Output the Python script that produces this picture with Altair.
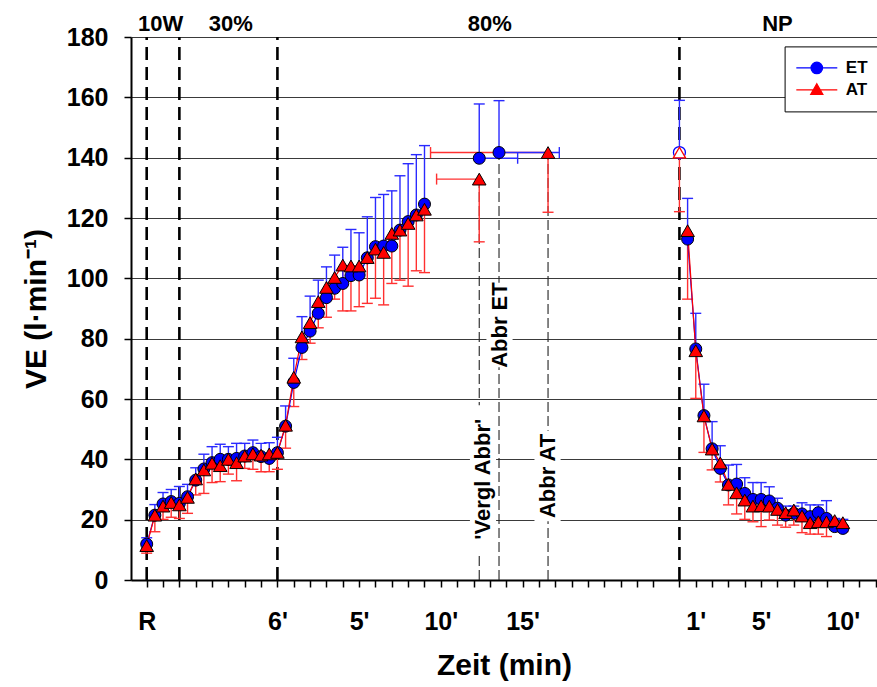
import json
import altair as alt
import pandas as pd

FONT = "Liberation Sans"
ETC = "#0000ff"
ATC = "#ff0000"
ETC_ERR = "#2a2aff"
ATC_ERR = "#ff3030"

NP = 32.6  # position of the post-exercise (NP) start on the time axis

# ---------------- data ----------------
ex_t = [0, 0.5, 1, 1.5, 2, 2.5, 3, 3.5, 4, 4.5, 5, 5.5, 6, 6.5, 7, 7.5, 8, 8.5,
        9, 9.5, 10, 10.5, 11, 11.5, 12, 12.5, 13, 13.5, 14, 14.5, 15, 15.5, 16, 16.5, 17]
ex_et = [11.9, 21.5, 25.2, 26.0, 25.4, 27.6, 33.1, 36.8, 38.9, 40.0, 40.0, 40.3, 41.1, 42.2,
         40.9, 40.3, 42.2, 51.0, 65.5, 77.1, 82.5, 88.4, 93.6, 96.7, 98.3, 100.9, 101.1,
         106.8, 110.5, 110.7, 110.7, 116.0, 118.8, 121.0, 124.6]
ex_et_hi = [14, 25, 29, 30, 31, 31.7, 37.2, 41.7, 44.2, 45, 44.2, 45.3, 45.3, 46.4, 45.3,
            45.5, 47.3, 57.7, 73.5, 87.3, 94.1, 99.4, 103.8, 107.7, 110.3, 116.2, 115.1,
            120.4, 126.8, 127.8, 129, 134, 138, 141, 144]
ex_at = [11.4, 21.5, 24.5, 25.7, 24.9, 27.4, 33.5, 36.5, 38.7, 37.9, 40.0, 38.9, 41.1, 41.8,
         41.4, 41.8, 42.3, 51.3, 67.2, 80.6, 85.3, 92.3, 97.0, 100.3, 104.4, 104.1, 104.1,
         106.9, 109.7, 108.6, 114.9, 116.0, 118.2, 121.0, 122.9]
ex_at_lo = [8.9, 16, 20.1, 20.8, 20.4, 22.1, 28.2, 28.7, 32.3, 32.6, 35.1, 32.9, 37, 36.7,
            35.9, 35.9, 36.7, 43.7, 57.5, 73.1, 78.5, 83.6, 87.1, 93.1, 89.2, 89.2, 90.6,
            91.7, 93.4, 91.2, 98.3, 99.4, 97.4, 102.5, 101.9]

rec_t = [0.5, 1, 1.5, 2, 2.5, 3, 3.5, 4, 4.5, 5, 5.5, 6, 6.5, 7, 7.5, 8, 8.5, 9, 9.5, 10]
rec_et = [113.0, 76.6, 54.5, 43.5, 37.0, 31.5, 31.8, 28.7, 26.7, 26.7, 26.2, 23.8, 21.5,
          22.1, 21.9, 21.0, 22.3, 20.4, 17.7, 17.1]
rec_et_hi = [126.5, 88.4, 64.9, 52.5, 44.5, 38.1, 38.3, 33.9, 32.3, 32.3, 30.9, 27.1, 24.5,
             24.5, 25.6, 24.9, 24.9, 26.3, 20.4, 20.1]
rec_at = [115.8, 76.0, 54.4, 43.4, 38.8, 31.7, 28.9, 26.5, 24.5, 24.6, 24.5, 23.4, 22.3,
          23.2, 21.2, 19.0, 19.3, 19.3, 19.7, 19.0]
rec_at_lo = [93.1, 60.2, 42.3, 36.5, 32.5, 24.9, 21.9, 20.1, 19.3, 17.7, 19.9, 18.2, 17.5,
             18.2, 15.7, 15.2, 15.2, 14.4, 17.5, 16.0]

# end-of-exercise points ('Vergl Abbr', Abbr ET / Abbr AT)
end_et_x = [20.35, 21.56]
end_et = [139.8, 141.7]
end_et_hi = [157.8, 158.9]
end_et_xhi = [22.7, 25.25]
end_at_x = [20.35, 24.56]
end_at = [132.9, 141.7]
end_at_lo = [112.1, 121.9]
end_at_xlo = [17.74, 17.37]

# first point of the NP phase (open markers)
np_et, np_et_hi = 141.7, 159.0
np_at, np_at_lo = 141.7, 122.1

# phases
phase_x = [0, 2, 8, NP]
phase_names = ["10W", "30%", "80%", "NP"]
phase_label_x = [0.85, 5.15, 21.0, 38.6]

# annotations of end points
ann_text = ["'Vergl Abbr'", "Abbr ET", "Abbr AT"]
ann_line_x = [end_at_x[0], end_et_x[1], end_at_x[1]]
ann_line_top = [end_at[0], end_et[1], end_at[1]]
ann_x = [20.58, 21.59, 24.53]
ann_y = [33.4, 84.5, 34.5]
ann_half = [24.5, 14.0, 15.0]

# axes
y_ticks = [0, 20, 40, 60, 80, 100, 120, 140, 160, 180]
x_ticks = list(range(0, 32)) + [round(NP + k, 3) for k in range(0, 13)]
x_label_pos = [0, 8, 13, 18, 23, round(NP + 1, 3), round(NP + 5, 3), round(NP + 10, 3)]
x_label_txt = ["R", "6'", "5'", "10'", "15'", "1'", "5'", "10'"]

# ---------------- tables ----------------
expr = "''"
for p, t in reversed(list(zip(x_label_pos, x_label_txt))):
    expr = f"abs(datum.value - {p}) < 0.01 ? {json.dumps(t)} : ({expr})"

XS = alt.Scale(domain=[-0.96, 44.69], nice=False, zero=False)
YS = alt.Scale(domain=[0, 180], nice=False, zero=False)
XAX = alt.Axis(values=x_ticks, labelExpr=expr, labelOverlap=False, labelFlush=False,
               grid=False, domainColor="black", domainWidth=2, tickColor="black",
               tickWidth=1.5, tickSize=7, labelFont=FONT, labelFontSize=25,
               labelFontWeight="bold", labelColor="black", labelPadding=22,
               titleFont=FONT, titleFontSize=30, titleFontWeight="bold",
               titleColor="black", titlePadding=16)
YAX = alt.Axis(values=y_ticks, labelOverlap=False, labelFlush=False, grid=True,
               gridColor="#3a3a3a", gridWidth=1, domainColor="black", domainWidth=2,
               tickColor="black", tickWidth=1.5, tickSize=7, labelFont=FONT,
               labelFontSize=25, labelFontWeight="bold", labelColor="black",
               labelPadding=16, titleFont=FONT, titleFontSize=30,
               titleFontWeight="bold", titleColor="black", titlePadding=15)


def X(f="x"):
    return alt.X(f, type="quantitative", scale=XS, axis=XAX, title="Zeit (min)")


def Y(f="y"):
    return alt.Y(f, type="quantitative", scale=YS, axis=YAX, title="VE (l·min⁻¹)")


et_main = pd.concat([
    pd.DataFrame({"x": ex_t, "y": ex_et, "e": ex_et_hi, "seg": "ex"}),
    pd.DataFrame({"x": [NP + t for t in rec_t], "y": rec_et, "e": rec_et_hi, "seg": "rec"}),
], ignore_index=True)
at_main = pd.concat([
    pd.DataFrame({"x": ex_t, "y": ex_at, "e": ex_at_lo, "seg": "ex"}),
    pd.DataFrame({"x": [NP + t for t in rec_t], "y": rec_at, "e": rec_at_lo, "seg": "rec"}),
], ignore_index=True)
et_end_df = pd.DataFrame({"x": end_et_x, "y": end_et, "e": end_et_hi, "xe": end_et_xhi})
at_end_df = pd.DataFrame({"x": end_at_x, "y": end_at, "e": end_at_lo, "xe": end_at_xlo})
et_np_df = pd.DataFrame({"x": [NP], "y": [np_et], "e": [np_et_hi]})
at_np_df = pd.DataFrame({"x": [NP], "y": [np_at], "e": [np_at_lo]})

et_pts_df = pd.concat([et_main[["x", "y", "e"]], et_end_df[["x", "y", "e"]]], ignore_index=True)
at_pts_df = pd.concat([at_main[["x", "y", "e"]], at_end_df[["x", "y", "e"]]], ignore_index=True)
et_err_df = pd.concat([et_pts_df, et_np_df], ignore_index=True)
at_err_df = pd.concat([at_pts_df, at_np_df], ignore_index=True)

phase_df = pd.DataFrame({"x": phase_x, "y": 0, "y2": 180})
phase_lab_df = pd.DataFrame({"x": phase_label_x, "y": 180, "name": phase_names})
thin_df = pd.DataFrame({"x": ann_line_x, "y": 0, "y2": ann_line_top})
ann_df = pd.DataFrame({"x": ann_x, "y": ann_y, "text": ann_text,
                       "x1": [v - 0.8 for v in ann_x], "x2": [v + 0.8 for v in ann_x],
                       "y1": [a - h for a, h in zip(ann_y, ann_half)],
                       "y2": [a + h for a, h in zip(ann_y, ann_half)]})

# ---------------- layers ----------------
phase_rules = alt.Chart(phase_df).mark_rule(color="black", strokeWidth=2.6, strokeDash=[13, 7]).encode(
    x=X(), y=Y(), y2="y2")
thin_rules = alt.Chart(thin_df).mark_rule(color="#222222", strokeWidth=1.1, strokeDash=[10, 4]).encode(
    x=X(), y=Y(), y2="y2")
ann_bg = alt.Chart(ann_df).mark_rect(color="white").encode(x=X("x1"), x2="x2", y=Y("y1"), y2="y2")
ann_txt = alt.Chart(ann_df).mark_text(angle=270, font=FONT, fontSize=22, fontWeight="bold",
                                      color="black", align="center", baseline="middle").encode(
    x=X(), y=Y(), text="text")
phase_txt = alt.Chart(phase_lab_df).mark_text(font=FONT, fontSize=22, fontWeight="bold", color="black",
                                              align="center", baseline="alphabetic", dy=-6).encode(
    x=X(), y=Y(), text="name")


def errbars(df, color, end_df):
    v = alt.Chart(df).mark_rule(color=color, strokeWidth=1.4).encode(x=X(), y=Y(), y2="e")
    c = alt.Chart(df).mark_tick(orient="horizontal", size=11, thickness=1.4, color=color,
                                opacity=1).encode(x=X(), y=Y("e"))
    h = alt.Chart(end_df).mark_rule(color=color, strokeWidth=1.4).encode(x=X(), x2="xe", y=Y())
    hc = alt.Chart(end_df).mark_tick(orient="vertical", size=11, thickness=1.4, color=color,
                                     opacity=1).encode(x=X("xe"), y=Y())
    return [v, c, h, hc]


at_err = errbars(at_err_df, ATC_ERR, at_end_df)
et_err = errbars(et_err_df, ETC_ERR, et_end_df)

et_line = alt.Chart(et_main).mark_line(color=ETC, strokeWidth=1.2).encode(x=X(), y=Y(), detail="seg:N")
at_line = alt.Chart(at_main).mark_line(color=ATC, strokeWidth=1.2).encode(x=X(), y=Y(), detail="seg:N")

et_pts = alt.Chart(et_pts_df).mark_point(shape="circle", filled=True, fill=ETC, stroke="black",
                                         strokeWidth=1, size=144, opacity=1).encode(x=X(), y=Y())
at_pts = alt.Chart(at_pts_df).mark_point(shape="triangle-up", filled=True, fill=ATC, stroke="black",
                                         strokeWidth=1, size=185, opacity=1).encode(x=X(), y=Y())
et_np = alt.Chart(et_np_df).mark_point(shape="circle", filled=True, fill="white", stroke=ETC,
                                       strokeWidth=1.3, size=144, opacity=1).encode(x=X(), y=Y())
at_np = alt.Chart(at_np_df).mark_point(shape="triangle-up", filled=True, fill="white", stroke=ATC,
                                       strokeWidth=1.3, size=150, opacity=1).encode(x=X(), y=Y())

# legend (symbols: line with marker)
series = ["ET", "AT"]
circle_path = "M-3.2,0H3.2M0.9,0A0.9,0.9,0,1,1,-0.9,0A0.9,0.9,0,1,1,0.9,0Z"
tri_path = "M-3.2,0H3.2M0,-0.95L0.95,0.7L-0.95,0.7Z"
CS = alt.Scale(domain=series, range=[ETC, ATC])
SS = alt.Scale(domain=series, range=[circle_path, tri_path])
LEG = alt.Legend(title=None, orient="none", legendX=653.6, legendY=9.4, fillColor="white",
                 strokeColor="black", padding=13, symbolSize=164, symbolStrokeWidth=1.2,
                 symbolOffset=10.7, labelOffset=20.5, rowPadding=4, labelFont=FONT,
                 labelFontSize=17, labelFontWeight="bold", labelColor="black", symbolOpacity=1)
leg_df = pd.DataFrame({"series": series, "x": [100, 100], "y": [100, 100]})
legend_layer = alt.Chart(leg_df).mark_point(clip=True, size=164, strokeWidth=1.2, opacity=1).encode(
    x=X(), y=Y(),
    fill=alt.Fill("series:N", scale=CS, legend=LEG),
    stroke=alt.Stroke("series:N", scale=CS, legend=LEG),
    shape=alt.Shape("series:N", scale=SS, legend=LEG),
)

layers = [phase_rules, thin_rules, ann_bg, ann_txt, phase_txt] + at_err + et_err + \
         [et_line, at_line, et_pts, at_pts, et_np, at_np, legend_layer]

chart = alt.layer(*layers).properties(
    width=746, height=543,
    padding={"left": 131, "top": 37, "right": 0, "bottom": 107},
    autosize=alt.AutoSizeParams(type="none"),
    background="white",
).configure_view(stroke=None)

chart.save("out.html", embed_options={"renderer": "svg", "actions": False})
